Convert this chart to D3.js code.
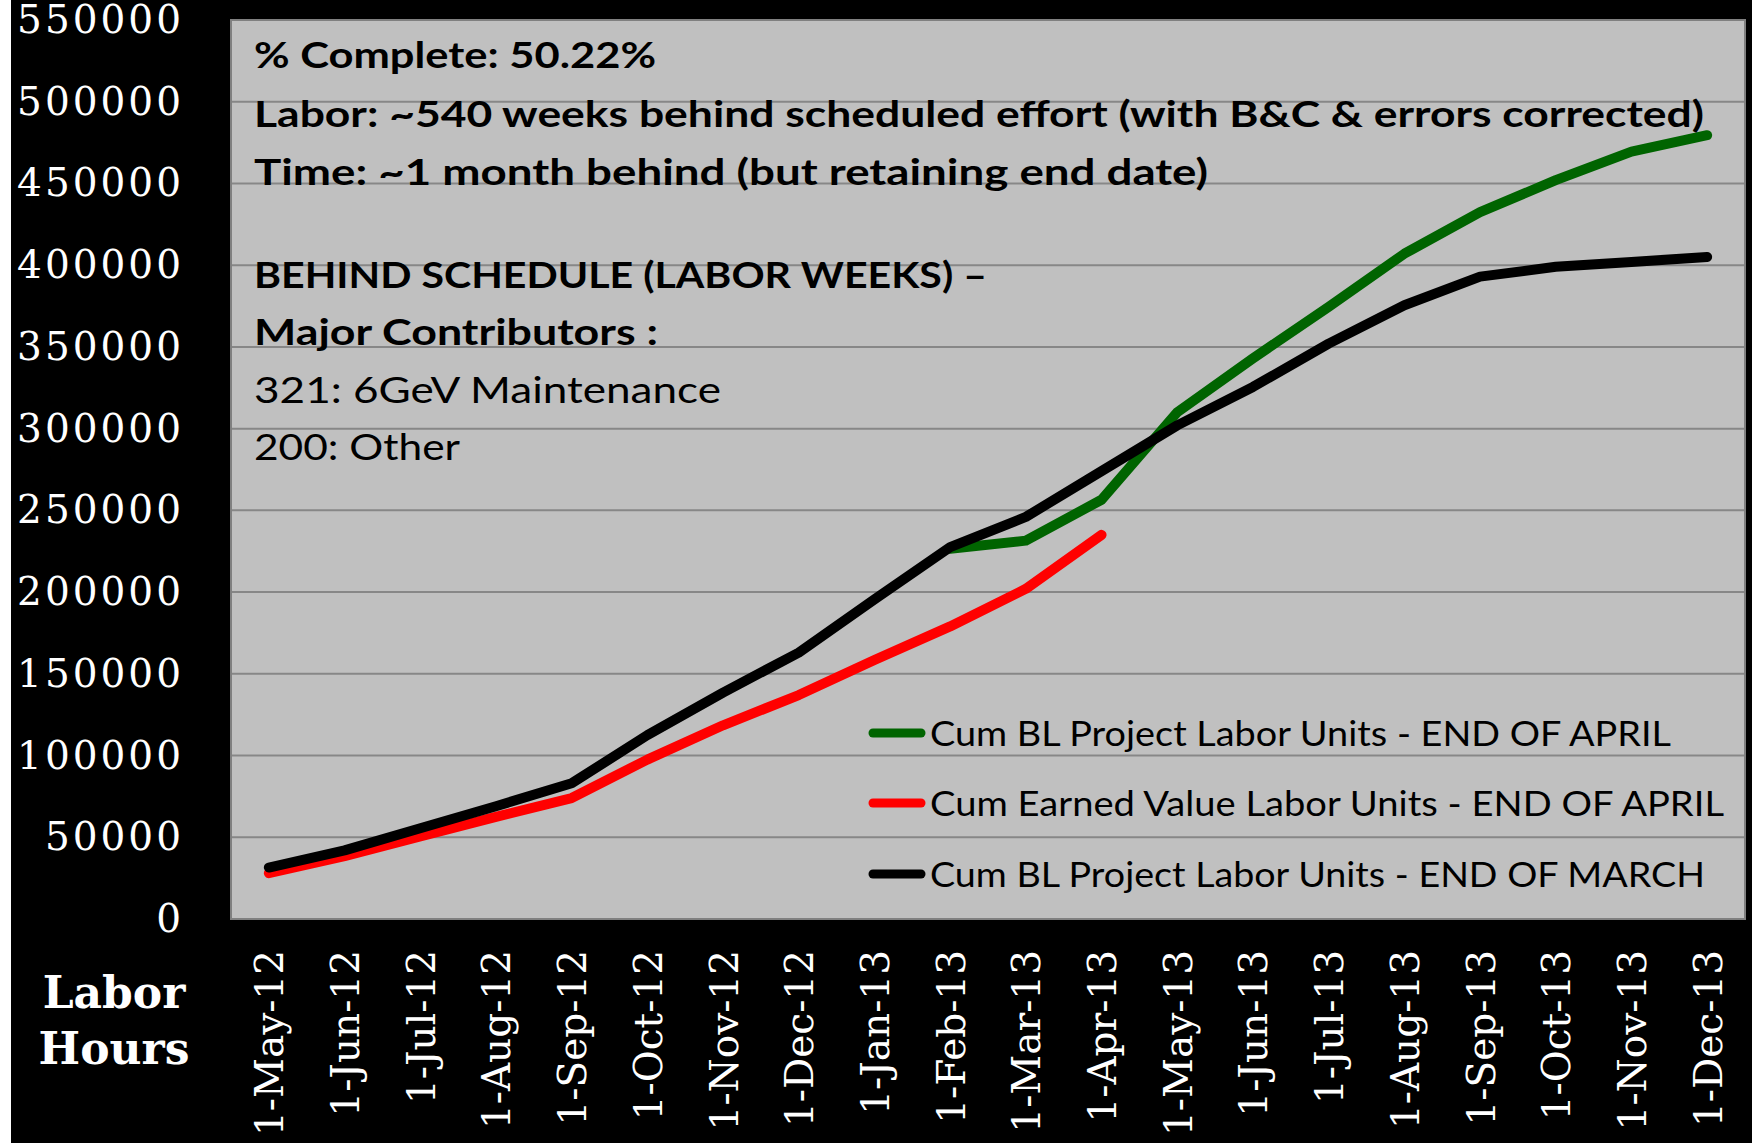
<!DOCTYPE html>
<meta charset="utf-8">
<head>
    <script type="text/javascript" src="https://d3js.org/d3.v7.min.js"></script>
    <style>
        body { margin: 0; background: #000; }
        svg { display: block; }
    </style>
    <title>Labor Hours</title>
</head>
<body>
<script>

    var width = 1752
    var height = 1143

    // data
    var months = ["1-May-12", "1-Jun-12", "1-Jul-12", "1-Aug-12", "1-Sep-12", "1-Oct-12",
        "1-Nov-12", "1-Dec-12", "1-Jan-13", "1-Feb-13", "1-Mar-13", "1-Apr-13", "1-May-13",
        "1-Jun-13", "1-Jul-13", "1-Aug-13", "1-Sep-13", "1-Oct-13", "1-Nov-13", "1-Dec-13"]

    var blApril = [null, null, null, null, null, null, null, null, null,
        226500, 231500, 256500, 310000, 343000, 374500, 407000, 432500, 452000, 469500, 479500]

    var evApril = [28000, 38500, 50500, 62500, 74000, 97500, 118500, 137000, 158500,
        179000, 202000, 235000]

    var blMarch = [31500, 42000, 55500, 69000, 83000, 112500, 138500, 163000, 195500,
        227500, 246000, 274000, 302000, 325500, 352000, 375500, 393000, 399000, 402000, 405000]

    var yTicks = d3.range(0, 550001, 50000)

    var seriesNames = ["Cum BL Project Labor Units - END OF APRIL",
        "Cum Earned Value Labor Units - END OF APRIL",
        "Cum BL Project Labor Units - END OF MARCH"]
    var seriesColors = ["#006400", "#ff0000", "#000000"]

    var notes = [
        {t: "% Complete: 50.22%", b: true, w: 402},
        {t: "Labor: ~540 weeks behind scheduled effort (with B&C & errors corrected)", b: true, w: 1450},
        {t: "Time: ~1 month behind  (but retaining end date)", b: true, w: 954},
        {t: "BEHIND SCHEDULE (LABOR WEEKS) \u2013", b: true, w: 733},
        {t: "Major Contributors :", b: true, w: 404},
        {t: "321: 6GeV Maintenance", b: false, w: 467},
        {t: "200: Other", b: false, w: 206}
    ]
    var noteY = [68, 127, 185, 288, 345, 403, 460]

    var svg = d3.select("body").append("svg")
        .attr("width", width)
        .attr("height", height)

    svg.append("rect").attr("width", width).attr("height", height).attr("fill", "#000")
    svg.append("rect").attr("width", 11).attr("height", height).attr("fill", "#fff")

    var plot = {left: 231, right: 1745, top: 20, bottom: 919}

    var x = d3.scalePoint()
        .domain(months)
        .range([plot.left, plot.right])
        .padding(0.5)

    var y = d3.scaleLinear()
        .domain([0, 550000])
        .range([plot.bottom, plot.top])

    svg.append("rect")
        .attr("x", plot.left).attr("y", plot.top)
        .attr("width", plot.right - plot.left).attr("height", plot.bottom - plot.top)
        .attr("fill", "#c0c0c0")

    // gridlines
    svg.append("g").selectAll("line")
        .data(yTicks.slice(1, -1))
        .enter().append("line")
        .attr("x1", plot.left).attr("x2", plot.right)
        .attr("y1", d => y(d)).attr("y2", d => y(d))
        .style("stroke", "#878787")
        .style("stroke-width", 2)

    svg.append("rect")
        .attr("x", plot.left).attr("y", plot.top)
        .attr("width", plot.right - plot.left).attr("height", plot.bottom - plot.top)
        .attr("fill", "none")
        .style("stroke", "#808080")
        .style("stroke-width", 2)

    // y axis
    var yAxis = svg.append("g")
        .attr("transform", "translate(" + plot.left + ",0)")
        .call(d3.axisLeft(y).tickValues(yTicks).tickSize(0).tickPadding(47).tickFormat(d3.format("d")))
    yAxis.select(".domain").remove()
    yAxis.selectAll("text")
        .style("font-family", "'DejaVu Serif'")
        .style("font-size", "39px")
        .style("letter-spacing", "3px")
        .attr("fill", "#fff")

    // x axis
    var xAxis = svg.append("g")
        .attr("transform", "translate(0," + plot.bottom + ")")
        .call(d3.axisBottom(x).tickSize(0))
    xAxis.select(".domain").remove()
    xAxis.selectAll("text")
        .attr("transform", "rotate(-90)")
        .attr("x", -31)
        .attr("y", 0)
        .attr("dy", "0.36em")
        .style("text-anchor", "end")
        .style("font-family", "'DejaVu Serif'")
        .style("font-size", "39px")
        .attr("fill", "#fff")

    // axis title
    var title = svg.append("text")
        .attr("x", 114)
        .style("font-family", "'DejaVu Serif'")
        .style("font-weight", "bold")
        .style("font-size", "44px")
        .style("text-anchor", "middle")
        .attr("fill", "#fff")
    title.append("tspan").attr("x", 114).attr("y", 1008).text("Labor")
    title.append("tspan").attr("x", 114).attr("y", 1064).text("Hours")

    // lines
    var line = d3.line()
        .defined(d => d[1] != null)
        .x(d => x(d[0]))
        .y(d => y(d[1]))

    var series = [blApril, evApril, blMarch]
    series.forEach(function (vals, i) {
        svg.append("path")
            .datum(vals.map((v, j) => [months[j], v]))
            .attr("d", line)
            .attr("fill", "none")
            .style("stroke", seriesColors[i])
            .style("stroke-width", 10)
            .style("stroke-linejoin", "round")
            .style("stroke-linecap", "round")
    })

    // notes
    svg.append("g").selectAll("text")
        .data(notes)
        .enter().append("text")
        .attr("x", 254)
        .attr("y", (d, i) => noteY[i])
        .attr("textLength", d => d.w)
        .attr("lengthAdjust", "spacingAndGlyphs")
        .style("font-family", "Lato")
        .style("font-weight", d => d.b ? "bold" : "normal")
        .style("font-size", "37px")
        .attr("fill", "#000")
        .text(d => d.t)

    // legend
    var legendY = [733, 803, 874]
    var legendW = [741, 794, 775]
    var legend = svg.append("g").selectAll("g")
        .data(seriesNames)
        .enter().append("g")
        .attr("transform", (d, i) => "translate(0," + legendY[i] + ")")
    legend.append("line")
        .attr("x1", 873).attr("x2", 921)
        .style("stroke", (d, i) => seriesColors[i])
        .style("stroke-width", 9)
        .style("stroke-linecap", "round")
    legend.append("text")
        .attr("x", 930)
        .attr("y", 13)
        .attr("textLength", (d, i) => legendW[i])
        .attr("lengthAdjust", "spacingAndGlyphs")
        .style("font-family", "Lato")
        .style("font-size", "34px")
        .attr("fill", "#000")
        .text(d => d)

</script>
</body>
</html>
